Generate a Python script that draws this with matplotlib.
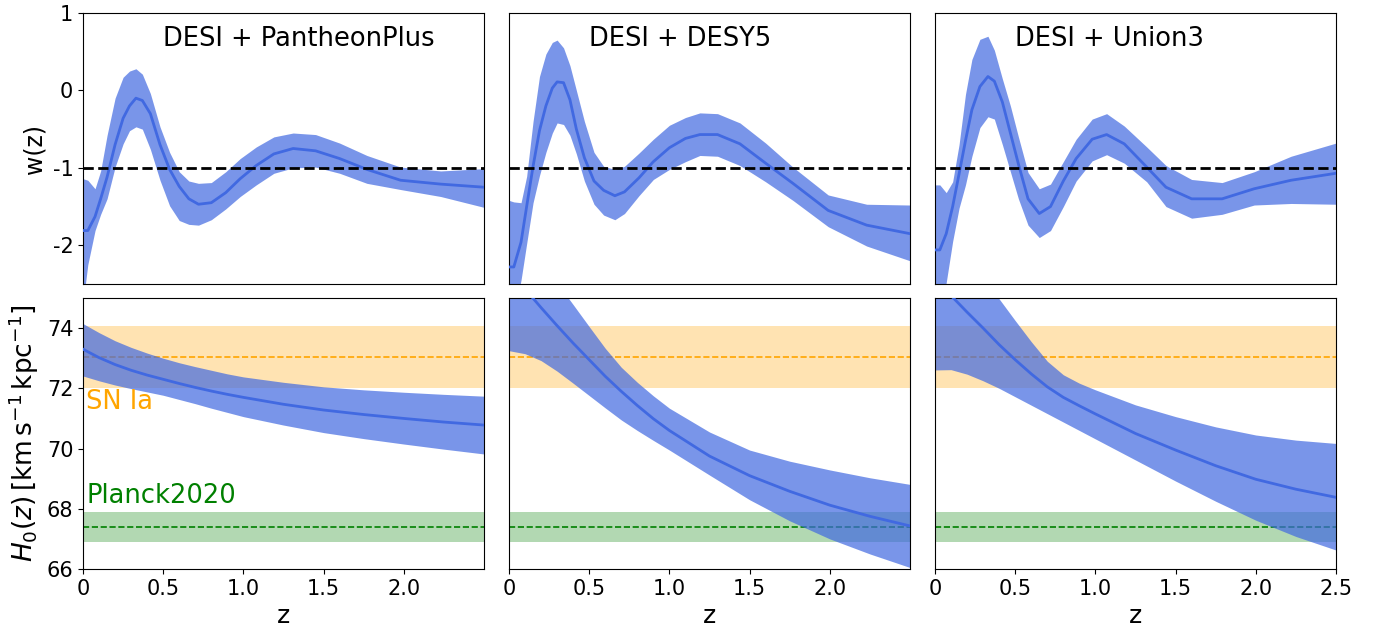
import matplotlib
matplotlib.use("Agg")
import matplotlib.pyplot as plt

# ---------------- data ----------------
titles = ["DESI + PantheonPlus", "DESI + DESY5", "DESI + Union3"]

# w(z) reconstructions (median, lower, upper), one redshift grid per panel
z_w_pp = [0, 0.03, 0.075, 0.11, 0.15, 0.2, 0.25, 0.29, 0.33, 0.37, 0.42, 0.48, 0.54, 0.6,
          0.66, 0.72, 0.8, 0.89, 0.98, 1.08, 1.19, 1.31, 1.45, 1.6, 1.77, 1.98, 2.23, 2.5]
w_mid_pp = [-1.81, -1.81, -1.63, -1.40, -1.12, -0.70, -0.36, -0.20, -0.10, -0.13, -0.30, -0.70,
            -1.02, -1.24, -1.40, -1.47, -1.45, -1.32, -1.14, -0.97, -0.82, -0.75, -0.78, -0.88,
            -1.02, -1.16, -1.21, -1.25]
w_hi_pp = [-1.14, -1.16, -1.27, -1.04, -0.58, -0.10, 0.17, 0.25, 0.28, 0.21, -0.04, -0.47,
           -0.80, -1.05, -1.17, -1.20, -1.19, -1.05, -0.88, -0.73, -0.60, -0.55, -0.57, -0.68,
           -0.84, -0.99, -1.04, -1.01]
w_lo_pp = [-2.75, -2.25, -1.81, -1.60, -1.40, -0.99, -0.69, -0.52, -0.47, -0.50, -0.76, -1.16,
           -1.49, -1.68, -1.73, -1.74, -1.67, -1.53, -1.37, -1.22, -1.07, -1.00, -0.99, -1.07,
           -1.20, -1.28, -1.37, -1.51]

z_w_y5 = [0, 0.03, 0.075, 0.11, 0.15, 0.19, 0.23, 0.27, 0.3, 0.34, 0.38, 0.42, 0.47, 0.53,
          0.59, 0.66, 0.72, 0.81, 0.9, 1.0, 1.1, 1.19, 1.3, 1.44, 1.6, 1.77, 1.99, 2.23, 2.5]
w_mid_y5 = [-2.28, -2.28, -1.96, -1.50, -0.98, -0.52, -0.20, 0.03, 0.11, 0.10, -0.12, -0.50,
            -0.87, -1.17, -1.29, -1.36, -1.31, -1.13, -0.92, -0.74, -0.62, -0.57, -0.57, -0.69,
            -0.94, -1.20, -1.55, -1.74, -1.85]
w_hi_y5 = [-1.42, -1.44, -1.45, -1.11, -0.40, 0.18, 0.47, 0.62, 0.65, 0.55, 0.32, 0.0,
           -0.40, -0.80, -0.98, -1.02, -0.98, -0.81, -0.63, -0.45, -0.35, -0.29, -0.30, -0.42,
           -0.68, -0.99, -1.35, -1.47, -1.48]
w_lo_y5 = [-3.2, -2.9, -2.45, -1.98, -1.45, -1.10, -0.80, -0.55, -0.42, -0.44, -0.58, -0.82,
           -1.17, -1.47, -1.61, -1.67, -1.59, -1.36, -1.15, -1.02, -0.92, -0.84, -0.85, -0.97,
           -1.18, -1.42, -1.76, -2.01, -2.20]

z_w_u3 = [0, 0.03, 0.07, 0.11, 0.15, 0.19, 0.23, 0.28, 0.33, 0.37, 0.42, 0.47, 0.52, 0.58,
          0.65, 0.72, 0.8, 0.88, 0.98, 1.07, 1.18, 1.32, 1.44, 1.6, 1.79, 1.99, 2.22, 2.5]
w_mid_u3 = [-2.06, -2.06, -1.85, -1.50, -1.08, -0.65, -0.25, 0.05, 0.18, 0.12, -0.15, -0.55,
            -0.95, -1.40, -1.59, -1.50, -1.17, -0.88, -0.63, -0.57, -0.69, -0.99, -1.25, -1.40,
            -1.40, -1.27, -1.16, -1.07]
w_hi_u3 = [-1.22, -1.22, -1.32, -1.18, -0.70, -0.05, 0.40, 0.66, 0.70, 0.52, 0.15, -0.20,
           -0.60, -1.06, -1.27, -1.21, -0.92, -0.63, -0.37, -0.30, -0.46, -0.73, -0.97, -1.15,
           -1.19, -1.05, -0.85, -0.68]
w_lo_u3 = [-3.2, -2.9, -2.48, -1.95, -1.52, -1.22, -0.85, -0.48, -0.34, -0.37, -0.70, -1.05,
           -1.40, -1.74, -1.90, -1.81, -1.50, -1.17, -0.91, -0.83, -0.94, -1.18, -1.50, -1.65,
           -1.60, -1.48, -1.46, -1.47]

# H0(z) reconstructions
z_h = [0, 0.1, 0.2, 0.3, 0.4, 0.5, 0.6, 0.7, 0.8, 0.9, 1.0, 1.25, 1.5, 1.75, 2.0, 2.25, 2.5]
h_mid_pp = [73.30, 73.02, 72.79, 72.60, 72.44, 72.30, 72.16, 72.03, 71.91, 71.80, 71.70,
            71.47, 71.28, 71.13, 71.00, 70.88, 70.78]
h_hi_pp = [74.15, 73.85, 73.58, 73.36, 73.17, 73.00, 72.85, 72.72, 72.60, 72.48, 72.38,
           72.20, 72.05, 71.95, 71.87, 71.80, 71.74]
h_lo_pp = [72.41, 72.25, 72.11, 71.99, 71.88, 71.77, 71.63, 71.49, 71.34, 71.20, 71.06,
           70.78, 70.53, 70.33, 70.15, 69.98, 69.82]

h_mid_y5 = [75.95, 75.30, 74.68, 74.08, 73.50, 72.95, 72.40, 71.90, 71.43, 70.99, 70.60,
            69.75, 69.10, 68.58, 68.12, 67.75, 67.43]
h_hi_y5 = [77.90, 77.15, 76.35, 75.50, 74.78, 74.05, 73.33, 72.70, 72.20, 71.75, 71.34,
           70.55, 69.95, 69.58, 69.29, 69.03, 68.81]
h_lo_y5 = [73.25, 73.15, 72.92, 72.57, 72.17, 71.76, 71.35, 70.95, 70.60, 70.27, 69.95,
           69.12, 68.30, 67.60, 67.00, 66.50, 66.05]

h_mid_u3 = [75.65, 75.08, 74.53, 74.00, 73.45, 72.95, 72.48, 72.05, 71.70, 71.42, 71.15,
            70.50, 69.95, 69.43, 68.98, 68.65, 68.38]
h_hi_u3 = [77.60, 76.95, 76.30, 75.65, 74.97, 74.25, 73.55, 72.90, 72.45, 72.17, 71.95,
           71.45, 71.06, 70.72, 70.45, 70.28, 70.17]
h_lo_u3 = [72.61, 72.62, 72.47, 72.25, 72.00, 71.72, 71.44, 71.16, 70.88, 70.60, 70.32,
           69.62, 68.92, 68.25, 67.62, 67.08, 66.63]

# reference H0 measurements
sn_h0, sn_err = 73.04, 1.04
planck_h0, planck_err = 67.4, 0.5

w_yticks = [1, 0, -1, -2]
w_yticklabels = ["1", "0", "-1", "-2"]
h_yticks = [66, 68, 70, 72, 74]
xticks = [0, 0.5, 1.0, 1.5, 2.0, 2.5]
xticklabels = ["0", "0.5", "1.0", "1.5", "2.0", "2.5"]

w_sets = [(z_w_pp, w_mid_pp, w_lo_pp, w_hi_pp),
          (z_w_y5, w_mid_y5, w_lo_y5, w_hi_y5),
          (z_w_u3, w_mid_u3, w_lo_u3, w_hi_u3)]
h_sets = [(h_mid_pp, h_lo_pp, h_hi_pp),
          (h_mid_y5, h_lo_y5, h_hi_y5),
          (h_mid_u3, h_lo_u3, h_hi_u3)]

# ---------------- plot ----------------
plt.rcParams['font.family'] = ['DejaVu Sans']
fig, axes = plt.subplots(2, 3, figsize=(13.79, 6.35), dpi=100)
fig.subplots_adjust(left=83/1379, right=1336/1379, top=1-13/635, bottom=1-569/635,
                    wspace=25/401, hspace=14/271)

blue = 'royalblue'
FS = 15
TXT = 18.5
for i in range(3):
    axw = axes[0, i]
    z, m, lo, hi = w_sets[i]
    axw.fill_between(z, lo, hi, color=blue, alpha=0.7, lw=0, zorder=2.5)
    axw.plot(z, m, color=blue, lw=2, zorder=3)
    axw.axhline(-1, color='k', ls='--', lw=2, zorder=4)
    axw.set_xlim(0, 2.5)
    axw.set_ylim(-2.5, 1)
    axw.text(0.2, 0.878, titles[i], transform=axw.transAxes, fontsize=TXT,
             ha='left', va='baseline')
    axw.tick_params(axis='x', bottom=False, labelbottom=False)
    if i == 0:
        axw.set_yticks(w_yticks)
        axw.set_yticklabels(w_yticklabels)
        axw.tick_params(axis='y', labelsize=FS)
        axw.set_ylabel('w(z)', fontsize=17)
    else:
        axw.tick_params(axis='y', left=False, labelleft=False)

    axh = axes[1, i]
    m, lo, hi = h_sets[i]
    axh.axhspan(sn_h0 - sn_err, sn_h0 + sn_err, color='orange', alpha=0.3, lw=0, zorder=1)
    axh.axhspan(planck_h0 - planck_err, planck_h0 + planck_err, color='green', alpha=0.3,
                lw=0, zorder=1)
    axh.axhline(sn_h0, color='orange', ls='--', lw=1.2, zorder=2)
    axh.axhline(planck_h0, color='green', ls='--', lw=1.2, zorder=2)
    axh.fill_between(z_h, lo, hi, color=blue, alpha=0.7, lw=0, zorder=2.5)
    axh.plot(z_h, m, color=blue, lw=2, zorder=3)
    axh.set_xlim(0, 2.5)
    axh.set_ylim(66, 75)
    if i < 2:
        axh.set_xticks(xticks[:-1])
        axh.set_xticklabels(xticklabels[:-1])
    else:
        axh.set_xticks(xticks)
        axh.set_xticklabels(xticklabels)
    axh.tick_params(axis='x', labelsize=FS)
    axh.set_xlabel('z', fontsize=18)
    if i == 0:
        axh.set_yticks(h_yticks)
        axh.tick_params(axis='y', labelsize=FS)
        axh.set_ylabel(r'$H_0(z)\,[\mathrm{km\,s^{-1}\,kpc^{-1}}]$', fontsize=19)
        axh.text(0.02, 71.3, 'SN Ia', color='orange', fontsize=TXT, ha='left', va='baseline')
        axh.text(0.02, 68.2, 'Planck2020', color='green', fontsize=TXT, ha='left',
                 va='baseline')
    else:
        axh.tick_params(axis='y', left=False, labelleft=False)

fig.savefig('out.png', dpi=100)
